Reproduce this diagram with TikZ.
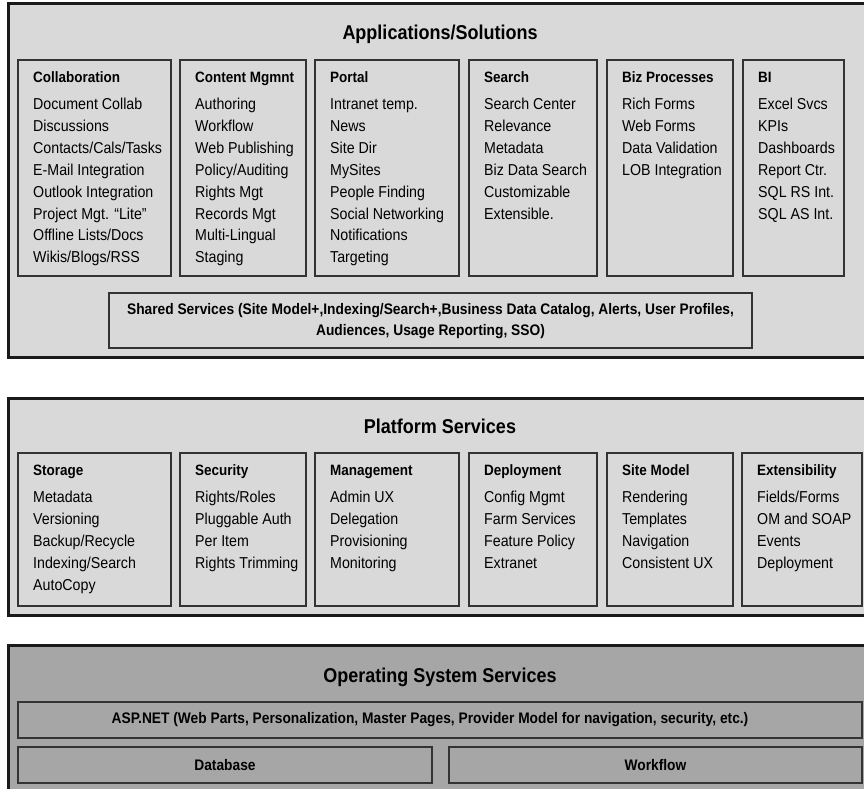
\documentclass[tikz,border=0pt]{standalone}
\usepackage{fontspec}
\setmainfont[FakeStretch=0.9]{Liberation Sans}
\usetikzlibrary{fit}
\definecolor{lightbg}{HTML}{D9D9D9}
\definecolor{darkbg}{HTML}{A6A6A6}
\definecolor{edge}{HTML}{1A1A1A}
\definecolor{inedge}{HTML}{333333}
\tikzset{
  outerbox/.style={draw=edge, line width=3pt, inner sep=0pt},
  colbox/.style={draw=inedge, line width=1.4pt, inner sep=0pt},
  titletext/.style={font=\bfseries\fontsize{20}{24}\selectfont, inner sep=0pt, anchor=base},
  headtext/.style={font=\bfseries\fontsize{15}{18}\selectfont, inner sep=0pt, anchor=base west},
  itemtext/.style={font=\fontsize{15.8}{18}\selectfont, inner sep=0pt, anchor=base west},
  smallbold/.style={font=\bfseries\fontsize{15.3}{21}\selectfont, inner sep=0pt, align=center},
}
\newcommand\mycol[7]{%
  \node[colbox, fit={(#2,#4) (#3,#5)}] (#1) {};
  \node[headtext] (#1-h) at ({#2+15},{#4+22.3}) {#6};
  \foreach \t [count=\i] in {#7}
    \node[itemtext] (#1-\i) at ({#2+15},{#4+49.5+(\i-1)*21.9}) {\t};
}
\begin{document}
\begin{tikzpicture}[x=1pt,y=-1pt]
\clip (0,0) rectangle (864,789);
\fill[white] (0,0) rectangle (864,789);
% ---------- Applications/Solutions
\node[outerbox, fill=lightbg, fit={(8,4) (880,357)}] (apps) {};
\node[titletext] (appsT) at (440,40) {Applications/Solutions};
\mycol{collab}{18}{171}{60}{276}{Collaboration}{Document Collab,Discussions,Contacts/Cals/Tasks,E-Mail Integration,Outlook Integration,Project Mgt. “Lite”,Offline Lists/Docs,Wikis/Blogs/RSS}
\mycol{cms}{180}{306}{60}{276}{Content Mgmnt}{Authoring,Workflow,Web Publishing,Policy/Auditing,Rights Mgt,Records Mgt,Multi-Lingual,Staging}
\mycol{portal}{315}{459}{60}{276}{Portal}{Intranet temp.,News,Site Dir,MySites,People Finding,Social Networking,Notifications,Targeting}
\mycol{search}{469}{597}{60}{276}{Search}{Search Center,Relevance,Metadata,Biz Data Search,Customizable,Extensible.}
\mycol{biz}{607}{733}{60}{276}{Biz Processes}{Rich Forms,Web Forms,Data Validation,LOB Integration}
\mycol{bi}{743}{844}{60}{276}{BI}{Excel Svcs,KPIs,Dashboards,Report Ctr.,SQL RS Int.,SQL AS Int.}
\node[colbox, fit={(109,293) (752,348)}] (shared) {};
\node[smallbold] (sharedT) at (430.5,321) {Shared Services (Site Model+,Indexing/Search+,Business Data Catalog, Alerts, User Profiles,\\Audiences, Usage Reporting, SSO)};
% ---------- Platform Services
\node[outerbox, fill=lightbg, fit={(8,398) (880,615)}] (plat) {};
\node[titletext] (platT) at (440,433) {Platform Services};
\mycol{storage}{18}{171}{453}{606}{Storage}{Metadata,Versioning,Backup/Recycle,Indexing/Search,AutoCopy}
\mycol{security}{180}{306}{453}{606}{Security}{Rights/Roles,Pluggable Auth,Per Item,Rights Trimming}
\mycol{mgmt}{315}{459}{453}{606}{Management}{Admin UX,Delegation,Provisioning,Monitoring}
\mycol{deploy}{469}{597}{453}{606}{Deployment}{Config Mgmt,Farm Services,Feature Policy,Extranet}
\mycol{sitemodel}{607}{733}{453}{606}{Site Model}{Rendering,Templates,Navigation,Consistent UX}
\mycol{ext}{742}{862}{453}{606}{Extensibility}{Fields/Forms,OM and SOAP,Events,Deployment}
% ---------- Operating System Services
\node[outerbox, fill=darkbg, fit={(8,645) (880,800)}] (os) {};
\node[titletext] (osT) at (440,682) {Operating System Services};
\node[colbox, fit={(18,702) (862,738)}] (asp) {};
\node[smallbold] (aspT) at (430,720) {ASP.NET (Web Parts, Personalization, Master Pages, Provider Model for navigation, security, etc.)};
\node[colbox, fit={(18,747) (432,783)}] (db) {};
\node[smallbold] (dbT) at (db.center) {Database};
\node[colbox, fit={(449,747) (862,783)}] (wf) {};
\node[smallbold] (wfT) at (wf.center) {Workflow};
\end{tikzpicture}
\end{document}
